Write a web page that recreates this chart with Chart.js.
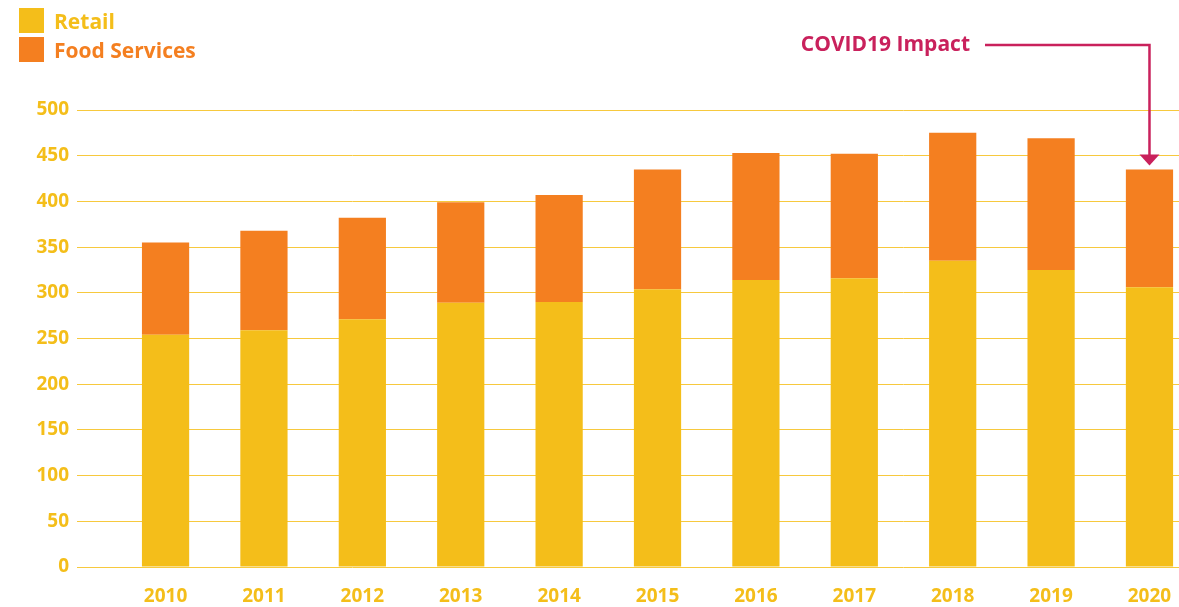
<!DOCTYPE html>
<html>
<head>
<meta charset="utf-8">
<script src="https://cdn.jsdelivr.net/npm/chart.js@4/dist/chart.umd.min.js"></script>
<style>
  body { margin: 0; background: #fff; }
  #wrap { position: relative; width: 1179px; height: 607px; }
  #legend { position: absolute; left: 19px; top: 6px; font-family: "Open Sans", sans-serif; font-weight: bold; font-size: 21px; }
  #legend .item { display: flex; align-items: center; height: 29px; }
  #legend .box { width: 25px; height: 25px; margin-right: 10px; }
</style>
</head>
<body>
<div id="wrap">
  <canvas id="salesChart" width="1179" height="607"></canvas>
  <div id="legend"></div>
</div>
<script>
// 데이터
const years = [2010, 2011, 2012, 2013, 2014, 2015, 2016, 2017, 2018, 2019, 2020];
const retail = [254, 259, 271, 289, 290, 304, 314, 316, 335, 325, 306];
const foodServices = [101, 109, 111, 110, 117, 131, 139, 136, 140, 144, 129];
const yTicks = [0, 50, 100, 150, 200, 250, 300, 350, 400, 450, 500];
const noteText = 'COVID19 Impact';
const noteYear = 2020;

const yellow = '#F4BE1A';
const orange = '#F47F20';
const crimson = '#C9215C';

// 주석 화살표
const covidArrow = {
  id: 'covidArrow',
  afterDatasetsDraw(chart) {
    const ctx = chart.ctx;
    const xs = chart.scales.x, ys = chart.scales.y;
    const i = years.indexOf(noteYear);
    const ax = xs.getPixelForValue(noteYear);
    const tipY = ys.getPixelForValue(retail[i] + foodServices[i]) - 4;
    const lineY = 45;
    ctx.save();
    ctx.fillStyle = crimson;
    ctx.strokeStyle = crimson;
    ctx.font = 'bold 21px "Open Sans"';
    ctx.textAlign = 'right';
    ctx.textBaseline = 'middle';
    ctx.fillText(noteText, 970, lineY);
    ctx.lineWidth = 2.5;
    ctx.beginPath();
    ctx.moveTo(985, lineY);
    ctx.lineTo(ax, lineY);
    ctx.lineTo(ax, tipY - 10);
    ctx.stroke();
    ctx.beginPath();
    ctx.moveTo(ax - 10, tipY - 11);
    ctx.lineTo(ax + 10, tipY - 11);
    ctx.lineTo(ax, tipY);
    ctx.closePath();
    ctx.fill();
    ctx.restore();
  }
};

const ctxA = document.getElementById('salesChart');
const salesChart = new Chart(ctxA, {
  type: 'bar',
  data: {
    datasets: [{
      label: 'Retail',
      data: years.map((y, i) => ({ x: y, y: retail[i] })),
      backgroundColor: yellow,
      borderWidth: 0
    },
    {
      label: 'Food Services',
      data: years.map((y, i) => ({ x: y, y: foodServices[i] })),
      backgroundColor: orange,
      borderWidth: 0
    }]
  },
  options: {
    responsive: false,
    animation: false,
    barPercentage: 0.48,
    categoryPercentage: 1,
    layout: { padding: { top: 110, right: 0, left: 0, bottom: 0 } },
    scales: {
      x: {
        type: 'linear',
        stacked: true,
        offset: false,
        min: 2009.1,
        max: 2020.3,
        afterFit(scale) {
          scale.height = 40;
          scale.paddingLeft = 0;
          scale.paddingRight = 0;
        },
        afterBuildTicks(scale) { scale.ticks = years.map(v => ({ value: v })); },
        grid: { display: false, drawTicks: false },
        border: { display: false },
        ticks: {
          padding: 18,
          color: yellow,
          font: { family: 'Open Sans', weight: 'bold', size: 19 },
          callback: v => String(v),
          maxRotation: 0,
          autoSkip: false
        }
      },
      y: {
        stacked: true,
        min: 0,
        max: 500,
        afterFit(scale) { scale.width = 77; },
        afterBuildTicks(scale) { scale.ticks = yTicks.map(v => ({ value: v })); },
        grid: { color: '#F7C93E', lineWidth: 1, drawTicks: false },
        border: { display: false },
        ticks: {
          padding: 8,
          color: yellow,
          font: { family: 'Open Sans', weight: 'bold', size: 19 }
        }
      }
    },
    plugins: {
      legend: { display: false },
      tooltip: { enabled: false }
    }
  },
  plugins: [covidArrow]
});

// 범례
const legendBox = document.getElementById('legend');
salesChart.data.datasets.forEach(ds => {
  const item = document.createElement('div');
  item.className = 'item';
  item.innerHTML = '<span class="box" style="background:' + ds.backgroundColor + '"></span>' +
    '<span style="color:' + ds.backgroundColor + '">' + ds.label + '</span>';
  legendBox.appendChild(item);
});
</script>
</body>
</html>
